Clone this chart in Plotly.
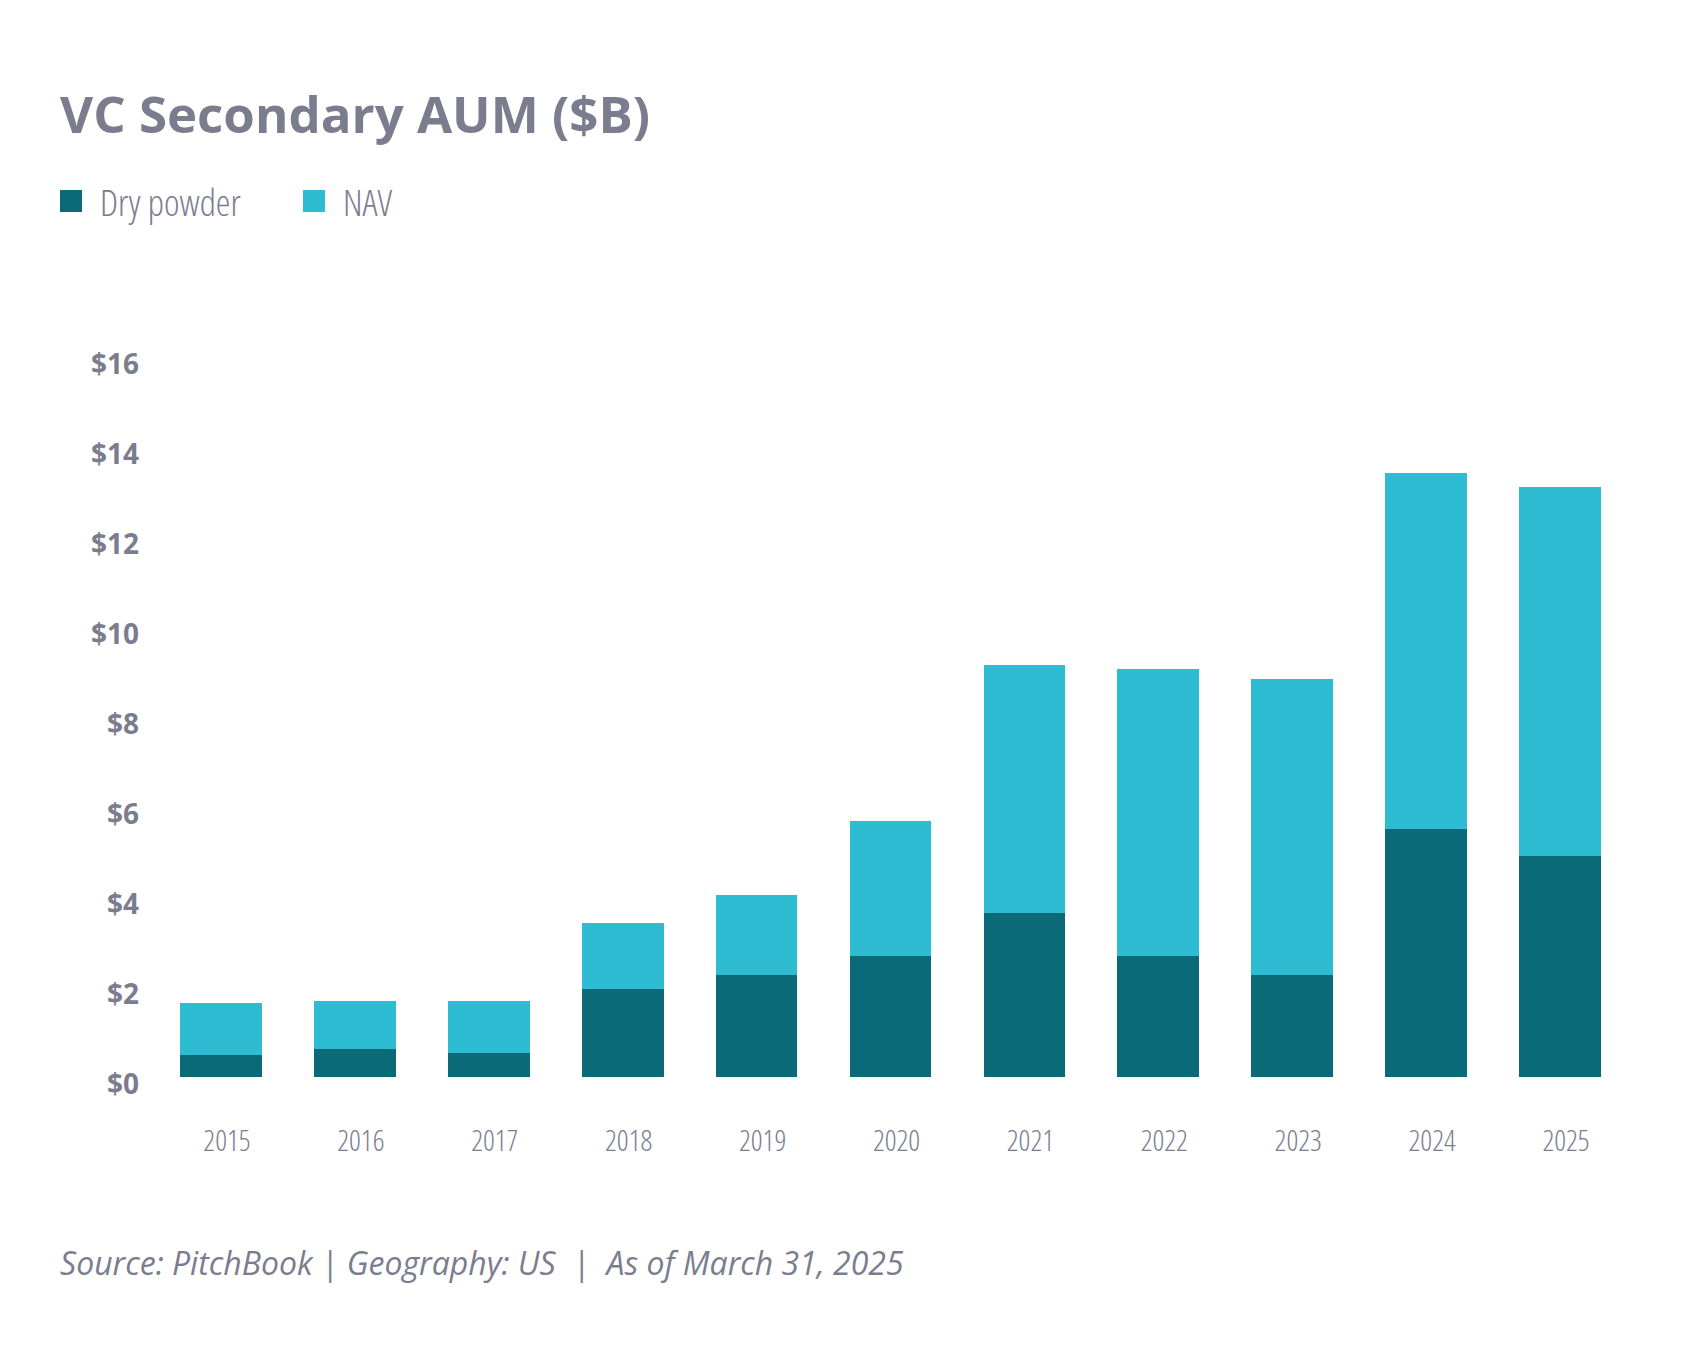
import plotly.graph_objects as go

years = ["2015", "2016", "2017", "2018", "2019", "2020", "2021", "2022", "2023", "2024", "2025"]
dry_powder = [0.50, 0.62, 0.53, 1.95, 2.27, 2.70, 3.64, 2.70, 2.26, 5.52, 4.91]
nav = [1.14, 1.06, 1.16, 1.47, 1.78, 2.99, 5.52, 6.36, 6.58, 7.90, 8.20]
y_ticks = [0, 2, 4, 6, 8, 10, 12, 14, 16]
y_tick_labels = ["$0", "$2", "$4", "$6", "$8", "$10", "$12", "$14", "$16"]

DARK = "#0b6a78"
LIGHT = "#2dbcd2"
GRAY = "#7b7d8f"
OFF = 8  # default page body margin
W, H = 1702 - 2 * OFF, 1362 - 2 * OFF
ML = 154 - OFF
MR = W - (1627 - OFF)
MT = 357 - OFF
MB = H - (1077 - OFF)

COND = "Open Sans"

fig = go.Figure()
fig.add_trace(go.Bar(x=years, y=dry_powder, name="Dry powder", marker=dict(color=DARK, line=dict(width=0))))
fig.add_trace(go.Bar(x=years, y=nav, name="NAV", marker=dict(color=LIGHT, line=dict(width=0))))


def px(x):
    return (x - OFF - ML) / (W - ML - MR)


def py(y):
    return (H - MB - (y - OFF)) / (H - MT - MB)


shapes = []
annotations = []
legend_items = [("Dry powder", DARK, 60), ("NAV", LIGHT, 303)]
for label, color, x0 in legend_items:
    shapes.append(dict(type="rect", xref="paper", yref="paper",
                       x0=px(x0), x1=px(x0 + 22), y0=py(212), y1=py(190),
                       fillcolor=color, line=dict(width=0)))
    annotations.append(dict(xref="paper", yref="paper", x=px(x0 + 38), y=py(201),
                            xanchor="left", yanchor="middle", align="left", showarrow=False,
                            text=label, font=dict(family=COND, size=37, color=GRAY, weight=300)))

annotations.append(dict(xref="paper", yref="paper", x=px(58), y=py(1262),
                        xanchor="left", yanchor="middle", showarrow=False,
                        text="Source: PitchBook | Geography: US  |  As of March 31, 2025",
                        font=dict(family="Open Sans", size=32, color=GRAY, style="italic")))

fig.update_layout(
    width=W, height=H,
    barmode="stack", bargap=0.39,
    paper_bgcolor="white", plot_bgcolor="white",
    margin=dict(l=ML, r=MR, t=MT, b=MB),
    showlegend=False,
    title=dict(text="VC Secondary AUM ($B)", xref="container", yref="container",
               x=(60 - OFF) / W, y=1 - (115 - OFF) / H, xanchor="left", yanchor="middle",
               font=dict(family="Open Sans", size=51, color=GRAY, weight=700)),
    xaxis=dict(showgrid=False, showline=False, zeroline=False, ticks="",
               tickfont=dict(family=COND, size=29, color=GRAY, weight=300),
               ticklabelstandoff=44, ticklabelshift=6),
    yaxis=dict(range=[0, 16], tickvals=y_ticks, ticktext=y_tick_labels,
               showgrid=False, showline=False, zeroline=False, ticks="",
               tickfont=dict(family="Open Sans", size=28, color=GRAY, weight="bold"),
               ticklabelstandoff=14, ticklabelshift=7),
    shapes=shapes, annotations=annotations,
)

# condensed rendering for the light-weight labels (legend and year labels)
condense_js = """
var gd = document.getElementById('{plot_id}');
function condense() {
  gd.querySelectorAll('text').forEach(function (t) {
    var w = t.style.fontWeight || t.getAttribute('font-weight');
    if (String(w) === '300') { t.style.fontStretch = '75%'; }
  });
}
condense();
gd.on('plotly_afterplot', condense);
"""

fig.write_html("out.html", post_script=condense_js)
